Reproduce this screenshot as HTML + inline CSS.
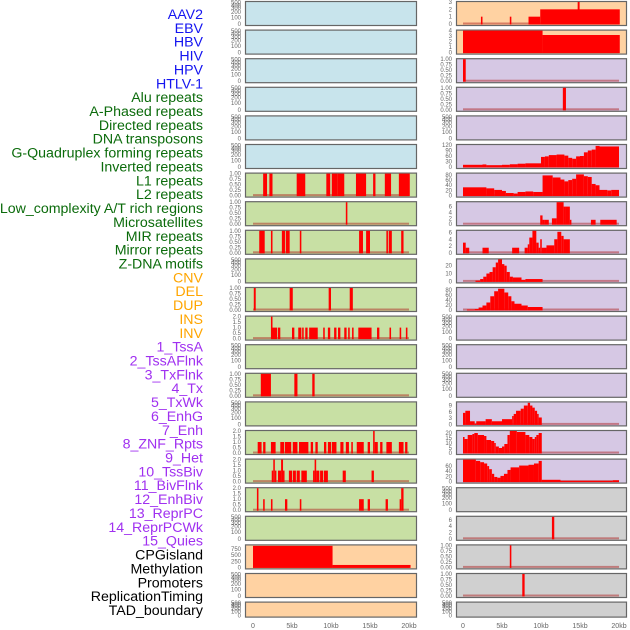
<!DOCTYPE html>
<html><head><meta charset="utf-8">
<style>
html,body{margin:0;padding:0;background:#fff;width:630px;height:630px;overflow:hidden}
svg{display:block}
text{font-family:"Liberation Sans",sans-serif}
</style></head>
<body>
<svg id="chart" width="630" height="630"></svg>
<script>
// ---- data: segments [startKb, endKb, value] ----
const labels = ["AAV2","EBV","HBV","HIV","HPV","HTLV-1","Alu repeats","A-Phased repeats","Directed repeats","DNA transposons","G-Quadruplex forming repeats","Inverted repeats","L1 repeats","L2 repeats","Low_complexity A/T rich regions","Microsatellites","MIR repeats","Mirror repeats","Z-DNA motifs","CNV","DEL","DUP","INS","INV","1_TssA","2_TssAFlnk","3_TxFlnk","4_Tx","5_TxWk","6_EnhG","7_Enh","8_ZNF_Rpts","9_Het","10_TssBiv","11_BivFlnk","12_EnhBiv","13_ReprPC","14_ReprPCWk","15_Quies","CPGisland","Methylation","Promoters","ReplicationTiming","TAD_boundary"];
const xTicks = [0,5,10,15,20];
const xTickLabels = ["0","5kb","10kb","15kb","20kb"];

const alu = [[1.3,1.8,1],[2.1,2.5,1],[5.6,6.7,1],[9.4,9.9,1],[10.1,10.8,1],[10.8,11.7,1],[13.2,14.5,1],[15.4,15.7,1],[16.9,17.7,1],[18.7,20.1,1]];
const aphased = [[11.9,12.1,1]];
const directed = [[0.8,1.5,1],[2.3,2.5,1],[3.7,4.1,1],[4.2,4.7,1],[6.0,6.2,1],[13.6,14.1,1],[14.5,15.0,1],[17.1,17.3,1],[17.4,17.8,1],[19.0,19.3,1]];
const gquad = [[0.1,0.35,1],[4.7,5.1,1],[9.7,10.0,1],[12.4,12.8,1]];
const inverted = [[2.3,2.5,2],[2.5,3.1,1],[3.2,3.5,1],[5.0,5.3,1],[5.8,6.2,1],[6.3,6.5,1],[6.7,7.0,1],[7.2,8.3,1],[9.0,9.2,1],[9.6,9.9,1],[10.4,10.7,1],[10.9,11.2,1],[11.7,12.0,1],[12.2,12.4,1],[12.7,12.9,1],[13.5,15.2,1],[15.9,16.2,1],[17.5,17.7,1],[18.8,19.0,1],[19.6,19.8,1]];
const l2 = [[1.0,2.3,1],[5.3,5.7,1],[7.6,7.9,1]];
const micro = [[0.6,1.1,1],[1.3,1.6,1],[2.3,2.9,1],[3.5,4.0,1],[4.1,4.9,1],[5.1,5.7,1],[5.9,7.1,1],[7.4,7.7,1],[8.0,8.3,1],[9.1,9.4,1],[9.6,10.0,1],[10.1,10.7,1],[11.2,11.6,1],[11.9,12.3,1],[12.6,12.8,1],[13.3,14.2,1],[14.7,15.0,1],[15.4,15.6,2],[15.6,16.0,1],[16.3,16.6,1],[17.1,17.8,1],[18.7,19.3,1],[19.5,19.8,1]];
const mir = [[2.4,2.6,1],[2.6,2.8,2],[2.8,3.0,1],[3.2,3.6,1],[3.6,3.85,2],[3.85,3.9,1],[4.6,5.0,1],[5.1,5.5,1],[5.6,6.0,1],[6.2,6.9,1],[7.7,7.9,1],[7.9,8.1,2],[8.1,8.5,1],[8.6,9.0,1],[9.1,9.6,1],[11.5,11.9,1],[15.2,15.5,1]];
const mirror = [[0.5,0.7,2],[1.3,1.5,1],[2.3,2.5,1],[4.1,4.4,1],[6.0,6.2,1],[13.6,14.2,1],[14.7,15.0,1],[17.0,17.3,1],[18.8,19.0,1],[19.0,19.3,2]];
const cnv = [[0,10.2,880],[10.2,20.2,100]];
const ins = [[2.3,2.5,1],[6.0,6.2,1],[8.4,9.9,1],[9.9,20.1,2],[14.7,14.95,3]];
const inv = [[0,10.2,4],[10.2,20.1,3.2]];
const tssa = [[0,0.35,1]];
const tssaflnk = [[12.8,13.2,1]];
const tx = [[0,2.5,12],[2.5,3,14],[3,5,10],[5,6,12],[6,7,15],[7,8,18],[8,10,20],[10,10.5,55],[10.5,11,58],[11,12,65],[12,13,68],[13,13.5,62],[13.5,14,50],[14,14.5,45],[14.5,15,58],[15,15.5,60],[15.5,16,80],[16,16.5,90],[16.5,17,95],[17,17.5,115],[17.5,20,112]];
const txwk = [[0,3,32],[3,4,28],[4,5,22],[5,5.5,18],[5.5,6.5,10],[6.5,7,8],[7,8,14],[8,9,16],[9,10.2,14],[10.2,11.5,78],[11.5,12.5,70],[12.5,13,62],[13,13.5,55],[13.5,14,60],[14,14.5,65],[14.5,15.5,82],[15.5,16,75],[16,16.5,72],[16.5,17,45],[17,17.5,40],[17.5,18.5,22],[18.5,19,20],[19,20,22]];
const enhg = [[9.9,10.2,3],[10.2,10.5,1.5],[10.5,11.0,1.5],[11.4,12.0,2],[12.0,12.9,7.5],[12.9,13.2,6],[13.2,13.7,6],[13.7,13.9,1.5],[16.4,17.0,1.5],[17.6,19.7,1.5]];
const enh = [[0,0.35,3],[0.35,0.8,1.5],[2.5,3.3,1.5],[6.3,7.2,1.5],[7.9,8.3,1.5],[8.3,8.5,2.5],[8.5,8.9,4.5],[8.9,9.4,6.5],[9.4,9.7,3],[9.7,9.9,1.5],[9.9,10.1,4],[10.1,10.7,1.5],[10.7,11.7,2.2],[11.7,12.1,4],[12.1,12.6,6.2],[12.6,12.9,5],[12.9,13.7,4]];
const znf = [[1.6,2.2,1],[2.2,2.6,3],[2.6,3.0,6],[3.0,3.4,10],[3.4,3.8,12],[3.8,4.2,18],[4.2,4.5,24],[4.5,5.0,28],[5.0,5.3,22],[5.3,5.6,20],[5.6,6.0,12],[6.0,6.4,6],[6.4,7.5,5],[7.5,8.0,2],[8.0,10.2,3]];
const het = [[0.5,1.5,2],[1.5,2,4],[2,2.5,10],[2.5,3,18],[3,3.5,30],[3.5,4,55],[4,4.5,75],[4.5,5.3,85],[5.3,5.8,70],[5.8,6.2,55],[6.2,6.6,35],[6.6,7.5,25],[7.5,8.3,18],[8.3,10.2,12]];
const reprpc = [[0,0.3,5.5],[0.3,0.9,6.5],[0.9,1.5,1.5],[1.5,1.7,0.3],[1.7,2.9,1.5],[2.9,3.7,2.5],[3.7,5.0,1.5],[5.0,6.3,2.5],[6.3,6.5,4],[6.5,6.8,5],[6.8,7.4,6.5],[7.4,7.8,7.5],[7.8,8.3,9],[8.3,8.6,10.3],[8.6,8.9,9],[8.9,9.2,8],[9.2,9.5,6.5],[9.5,9.7,5],[9.7,10.1,3.3]];
const reprpcwk = [[0,0.2,16],[0.2,0.6,14],[0.6,1.2,18],[1.2,1.45,19],[1.45,1.9,20],[1.9,2.7,18],[2.7,3.0,17],[3.0,3.6,13],[3.6,4.0,12],[4.0,4.2,10],[4.2,4.6,6.5],[4.6,5.0,5],[5.0,5.3,6.5],[5.3,5.7,9],[5.7,6.0,18],[6.0,6.9,22],[6.9,8.0,21],[8.0,8.5,18],[8.5,8.9,16],[8.9,9.2,14],[9.2,9.4,16],[9.4,9.7,18],[9.7,10.1,20]];
const quies = [[0,1.65,85],[1.65,2.2,80],[2.2,2.7,75],[2.7,3.1,70],[3.1,3.35,60],[3.35,3.7,48],[3.7,4.0,30],[4.0,4.4,18],[4.4,4.8,15],[4.8,5.25,22],[5.25,5.7,30],[5.7,6.1,45],[6.1,7.2,55],[7.2,8.4,62],[8.4,9.1,65],[9.1,9.7,70],[9.7,10.1,80],[10.1,12.5,7],[12.5,19.2,3],[19.2,20,5]];
const methyl = [[11.4,11.7,7]];
const promoters = [[6.0,6.2,1]];
const reptiming = [[7.6,7.9,1]];

const t01 = [0,0.25,0.5,0.75,1], t01L = ["0.00","0.25","0.50","0.75","1.00"];
const t02 = [0,0.5,1,1.5,2], t02L = ["0.0","0.5","1.0","1.5","2.0"];

const BLUE="#c8e4ec",GREEN="#c8e0a4",PEACH="#ffd2a2",PURP="#d6c8e4",GREY="#d0d0d0";
const panels = [];
for(let r=0;r<6;r++) panels.push([0,r,BLUE,null]);
panels.push([0,6,GREEN,alu,1,t01,t01L]);
panels.push([0,7,GREEN,aphased,1,t01,t01L]);
panels.push([0,8,GREEN,directed,1,t01,t01L]);
panels.push([0,9,GREEN,null]);
panels.push([0,10,GREEN,gquad,1,t01,t01L]);
panels.push([0,11,GREEN,inverted,2,t02,t02L]);
panels.push([0,12,GREEN,null]);
panels.push([0,13,GREEN,l2,1,t01,t01L]);
panels.push([0,14,GREEN,null]);
panels.push([0,15,GREEN,micro,2,t02,t02L]);
panels.push([0,16,GREEN,mir,2,t02,t02L]);
panels.push([0,17,GREEN,mirror,2,t02,t02L]);
panels.push([0,18,GREEN,null]);
panels.push([0,19,PEACH,cnv,900,[0,250,500,750],["0","250","500","750"]]);
panels.push([0,20,PEACH,null]);
panels.push([0,21,PEACH,null]);
panels.push([1,0,PEACH,ins,3,[0,1,2,3],["0","1","2","3"]]);
panels.push([1,1,PEACH,inv,4,[0,1,2,3,4],["0","1","2","3","4"]]);
panels.push([1,2,PURP,tssa,1,t01,t01L]);
panels.push([1,3,PURP,tssaflnk,1,t01,t01L]);
panels.push([1,4,PURP,null]);
panels.push([1,5,PURP,tx,120,[0,30,60,90,120],["0","30","60","90","120"]]);
panels.push([1,6,PURP,txwk,85,[0,20,40,60,80],["0","20","40","60","80"]]);
panels.push([1,7,PURP,enhg,7.5,[0,2,4,6],["0","2","4","6"]]);
panels.push([1,8,PURP,enh,6.5,[0,2,4,6],["0","2","4","6"]]);
panels.push([1,9,PURP,znf,28,[0,10,20],["0","10","20"]]);
panels.push([1,10,PURP,het,88,[0,20,40,60,80],["0","20","40","60","80"]]);
panels.push([1,11,PURP,null]);
panels.push([1,12,PURP,null]);
panels.push([1,13,PURP,null]);
panels.push([1,14,PURP,reprpc,10.5,[0,3,6,9],["0","3","6","9"]]);
panels.push([1,15,PURP,reprpcwk,22,[0,5,10,15,20],["0","5","10","15","20"]]);
panels.push([1,16,PURP,quies,85,[0,20,40,60],["0","20","40","60"]]);
panels.push([1,17,GREY,null]);
panels.push([1,18,GREY,methyl,7,[0,2,4,6],["0","2","4","6"]]);
panels.push([1,19,GREY,promoters,1,t01,t01L]);
panels.push([1,20,GREY,reptiming,1,t01,t01L]);
panels.push([1,21,GREY,null]);

const NS="http://www.w3.org/2000/svg";
const svg=document.getElementById('chart');
function mk(tag,attrs,parent){const e=document.createElementNS(NS,tag);for(const k in attrs)e.setAttribute(k,attrs[k]);(parent||svg).appendChild(e);return e;}

const labelColors = i => i<6?"#1414f0":i<19?"#0b6b0b":i<24?"#ffa500":i<39?"#a030f0":"#000";
labels.forEach((l,i)=>{
  const t=mk('text',{x:203,y:19+i*13.86,'text-anchor':'end','font-size':'14.2',fill:labelColors(i)});
  t.textContent=l;
  
  
});

const colBox=[[245,416],[456,626]];
const colX0=[253,463];
const KB=7.8;
function xs(c,kb){return colX0[c]+kb*KB;}
function rowTop(r){return 1+r*28.6;}

panels.forEach(p=>{
  const [c,r,bg,data,max,ticks,tl]=p;
  const T=rowTop(r), H = r===21?15:24;
  const g=mk('g',{});
  
  
  const b=mk('rect',{x:colBox[c][0]+0.5,y:T+0.5,width:colBox[c][1]-colBox[c][0],height:H,fill:bg,stroke:'#666','stroke-width':1.2},g);
  
  
  const tx0=colBox[c][0]-4;
  const y0=T+H-1, span=H-2;
  const ys=v=>y0-v/max*span;
  if(!data){
    const et=[0,100,200,300,400,500], ep=[0,0.3,0.55,0.72,0.85,0.98];
    et.forEach((v,i)=>{
      const t=mk('text',{x:tx0,y:(y0-ep[i]*span)+2,'text-anchor':'end','font-size':'6',fill:'#666'},g);
      t.textContent=v;
      
      
    });
    return;
  }
  ticks.forEach((v,i)=>{
    const t=mk('text',{x:tx0,y:ys(v)+2,'text-anchor':'end','font-size':'6',fill:'#666'},g);
    t.textContent=tl[i];
    
    
  });
  const base=mk('rect',{x:xs(c,0),y:y0-1.5,width:20*KB,height:2,fill:'rgba(170,20,20,0.45)'},g);
  
  
  data.forEach(d=>{
    const x1=xs(c,d[0]), x2=xs(c,d[1]);
    const yt=Math.max(T+1,ys(d[2]));
    const rc=mk('rect',{x:x1,y:yt,width:Math.max(1.5,x2-x1),height:y0-yt+0.5,fill:'#ff0000'},g);
    
    
  });
});

[0,1].forEach(c=>{
  xTicks.forEach((v,i)=>{
    const t=mk('text',{x:xs(c,v),y:628,'text-anchor':'middle','font-size':'7',fill:'#666'});
    t.textContent=xTickLabels[i];
    
    
  });
});
</script>
</body></html>
